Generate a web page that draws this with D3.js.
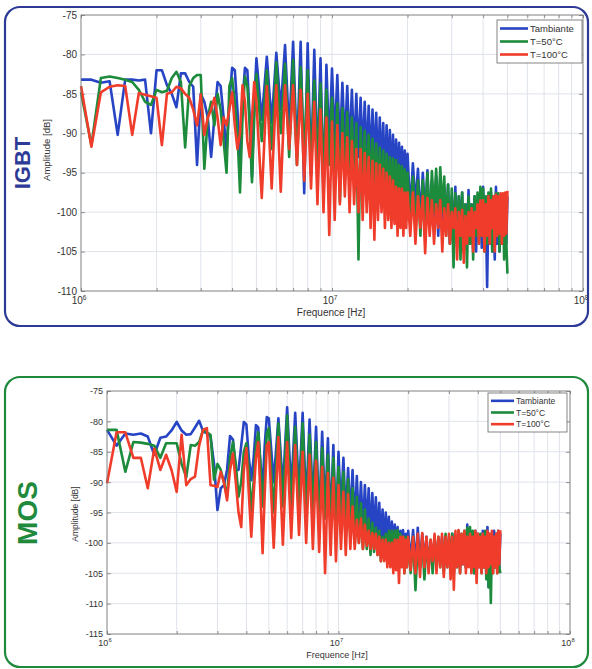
<!DOCTYPE html>
<html>
<head>
<meta charset="utf-8">
<script src="https://cdn.jsdelivr.net/npm/d3@7"></script>
<style>
body { margin: 0; background: #fff; }
text { font-family: "Liberation Sans", Arial, sans-serif; }
</style>
</head>
<body>
<div id="chart"></div>
<script>
// Frequency grid (MHz) shared by every curve
var freqMHz = [
  1, 1.1, 1.2, 1.3, 1.4, 1.5, 1.6, 1.7, 1.8, 1.9,
  2, 2.1, 2.2, 2.3, 2.4, 2.5, 2.6, 2.7, 2.8, 2.9,
  3, 3.1, 3.2, 3.3, 3.4, 3.5, 3.6, 3.7, 3.8, 3.9,
  4, 4.1, 4.2, 4.3, 4.4, 4.5, 4.6, 4.7, 4.8, 4.9,
  5,
  5.25, 5.5, 5.75, 6, 6.25, 6.5, 6.75, 7, 7.25, 7.5,
  7.75, 8, 8.25, 8.5, 8.75, 9, 9.25, 9.5, 9.75, 10,
  10.25, 10.5, 10.75, 11, 11.25, 11.5, 11.75, 12, 12.25, 12.5,
  12.75, 13, 13.25, 13.5, 13.75, 14, 14.25, 14.5, 14.75, 15,
  15.25, 15.5, 15.75, 16, 16.25, 16.5, 16.75, 17, 17.25, 17.5,
  17.75, 18, 18.25, 18.5, 18.75, 19, 19.25, 19.5, 19.75, 20,
  20.5, 21, 21.5, 22, 22.5, 23, 23.5, 24, 24.5, 25,
  25.5, 26, 26.5, 27, 27.5, 28, 28.5, 29, 29.5, 30,
  30.5, 31, 31.5, 32, 32.5, 33, 33.5, 34, 34.5, 35,
  35.5, 36, 36.5, 37, 37.5, 38, 38.5, 39, 39.5, 40,
  40.5, 41, 41.5, 42, 42.5, 43, 43.5, 44, 44.5, 45,
  45.5, 46, 46.5, 47, 47.5, 48, 48.5, 49, 49.5, 50
];

// IGBT amplitudes (dB)
var igbtTamb = [
  -83.2, -83.2, -83.6, -83.4, -90.2, -83.2, -83.2, -83.3, -83.2, -90,
  -82, -82, -83.9, -85, -86.7, -82.4, -82.4, -83.5, -84.1, -94,
  -85, -86, -88, -93, -88, -83.5, -84, -88, -92.4, -86,
  -81.7, -82, -87, -94.3, -86, -81.7, -82, -88, -95.5, -86,
  -80.5,
  -88.3, -80.3, -88.7, -79.8, -87, -78.8, -90, -78.4, -93, -78.4,
  -97.6, -78.6, -95.3, -79.4, -94, -80.5, -97.6, -81.3, -92, -81.8,
  -91, -82.6, -92, -83.6, -91.5, -84, -92, -84.5, -92.5, -85,
  -93, -85.5, -93, -86, -93.5, -86.5, -94, -87, -94, -87.4,
  -95, -88, -95, -88.7, -96.8, -89, -96, -89.6, -97, -90.2,
  -97, -90.8, -98, -91.2, -98, -91.7, -99, -92.2, -99, -92.6,
  -100, -93.8, -99, -94.5, -101, -95, -100.6, -94.7, -102, -96,
  -101, -95.5, -103, -95.5, -102.7, -97, -101.5, -96.5, -104, -98,
  -103, -96.8, -104.4, -98, -102, -97.5, -105, -99, -103, -97.2,
  -104, -99, -102.5, -98, -105, -99.5, -103, -97, -104.5, -96.8,
  -102, -100, -109.5, -99, -104, -97.5, -105, -98, -106, -96.8,
  -104, -99, -105, -98, -104, -99, -103, -98, -104, -98
];
var igbt50 = [
  -84.8, -91.5, -83, -82.8, -83, -83.2, -83.5, -84.5, -86, -86.4,
  -84.5, -84.8, -84.6, -83, -82.2, -83.5, -91.8, -84, -83, -82.6,
  -82.6, -94.5, -88, -86, -89, -85, -87, -91, -95, -84,
  -83, -86, -90, -97.5, -88, -82.8, -84, -89, -96.2, -88,
  -82.5,
  -91, -82, -92, -81, -90, -81.2, -93, -80.7, -94, -81.6,
  -93, -82, -95, -83.3, -94, -83.7, -96, -84.5, -94, -85.5,
  -95, -86.2, -98.7, -86.8, -95, -87.3, -96, -88, -96, -88.7,
  -106, -89.2, -97, -89.7, -97, -90.2, -98, -90.7, -97, -91.3,
  -98, -91.8, -99, -92.2, -98.5, -92.6, -100, -93, -99, -93.2,
  -101, -93.4, -100, -94, -100.5, -94.2, -101, -94.6, -101, -95,
  -101, -95.5, -102, -96, -103, -96, -101, -95, -102, -94.8,
  -100, -94.5, -101, -94.3, -100, -95.5, -103, -96.5, -104, -97,
  -107, -97.6, -104, -98, -106, -97.5, -105, -99, -107, -98,
  -104, -99, -106, -98, -103, -97.5, -104, -96.8, -103, -97,
  -105, -98, -104, -97.5, -103, -97, -105, -98, -104, -97.6,
  -103, -97.6, -105, -99, -104, -98, -106, -98.5, -104, -107.8
];
var igbt100 = [
  -84, -91.7, -84.8, -84.1, -83.9, -84, -90.2, -84.9, -85.1, -85.3,
  -85.5, -91.5, -85, -84.8, -84.1, -84.3, -85, -85.5, -87, -89,
  -85.1, -90.2, -88, -87, -85.5, -88, -91.5, -88, -89, -87,
  -84.8, -89, -92, -90, -83.9, -86, -91, -93, -88, -83.5,
  -86,
  -98.2, -84, -97, -83.9, -97.4, -83.9, -92, -83.9, -94, -84.5,
  -96, -85, -97, -86, -99, -87, -100, -88, -102.9, -88.5,
  -101, -89, -99, -90, -98, -90.5, -100, -91, -99, -92,
  -100, -92, -101, -92.5, -100, -93, -102, -93.5, -103.5, -93.8,
  -101, -94, -100, -94.5, -102, -95, -101, -95.5, -102, -96,
  -101.5, -96.8, -103, -97, -102, -97, -103, -97.5, -102, -97.5,
  -103, -97.5, -104, -98, -102, -98, -105.2, -98.2, -103, -98.5,
  -104, -99, -102, -98.5, -105, -99.5, -103, -99, -104, -100,
  -102, -99.5, -106, -100, -103, -99.7, -106.4, -100.5, -104, -100,
  -103, -99.5, -105, -100, -102, -99, -104, -98.5, -103, -98.5,
  -105, -99, -103, -98, -104, -98.5, -102, -98, -105, -97.8,
  -103, -98, -102.7, -97.6, -104, -97.6, -103, -97.5, -102.7, -97.3
];

// MOS amplitudes (dB)
var mosTamb = [
  -81.4, -84, -82, -82.2, -82, -82.5, -85.5, -82.7, -82.5, -81.5,
  -80.1, -81.5, -82.2, -82.1, -81, -79.9, -81.6, -82, -82.5, -87,
  -94.6, -91, -90.5, -88, -82.4, -83, -88, -88, -84, -80.1,
  -80.5, -86, -89.7, -86, -80.6, -81, -87, -90.8, -84, -79.3,
  -79.5,
  -90, -79.5, -91, -77.7, -91.5, -78.6, -92, -78.6, -93.8, -79.7,
  -94, -80.9, -96.6, -81.7, -95, -82.8, -97, -83.9, -98.7, -85,
  -95, -86, -96, -87.7, -96, -88, -97, -89, -97.5, -90,
  -98, -90.5, -98, -91, -99, -91.8, -99, -92.5, -100, -93.4,
  -100, -94.5, -101, -95, -101, -95.7, -102, -96.5, -102, -97,
  -103, -97.4, -103, -98, -102, -97.9, -103, -98.5, -102.5, -98,
  -103, -97.9, -103.5, -97.5, -104, -98.5, -103, -99, -104, -100,
  -103.5, -99, -104, -99.5, -103, -99, -104.5, -99, -103, -99.5,
  -104, -98.5, -105, -99, -103, -98.5, -104, -99, -103.5, -98.5,
  -104, -97, -103, -98.5, -104, -99, -105, -98, -103, -98.5,
  -104, -99, -103.5, -98, -104, -98.5, -105, -97.4, -107.3, -98.5,
  -104, -99, -103.5, -98, -104, -98.5, -103, -98, -104, -98.4
];
var mos50 = [
  -81.4, -81.4, -88.3, -83.4, -83.5, -83.7, -84, -86, -83.6, -83.6,
  -83.6, -87, -89.2, -83.9, -84, -83.4, -81.4, -81.8, -82.2, -89.6,
  -87, -88, -90, -92.4, -86, -83.4, -87, -92.4, -90, -85,
  -83.6, -88, -94.9, -90, -84, -81.8, -87, -94, -89, -82,
  -81.1,
  -95, -80.3, -94, -79, -95, -80.9, -94, -80.3, -96, -82.2,
  -95, -83.4, -97, -84.4, -96, -85.5, -98, -86, -97, -87.5,
  -98, -88.3, -99, -89.5, -99, -91, -100, -92.4, -100, -93.5,
  -101, -94.5, -101, -96, -102, -96.7, -101.5, -97.5, -102, -98,
  -103, -99, -102, -98.5, -103, -98, -102.5, -98, -104, -98,
  -103, -97.9, -104, -98.5, -103, -99, -105, -99, -104, -99.5,
  -105, -99, -107.8, -100, -104, -99.5, -106, -100, -104, -99.5,
  -105, -100, -103, -99, -104, -99.5, -105, -98.5, -104, -99,
  -103.5, -98.5, -105, -99, -104, -98, -105, -98.5, -103, -98,
  -104, -97.5, -103, -97.4, -104, -98, -105, -98.5, -104, -99,
  -103, -98.5, -105, -99, -104, -98, -106, -98.5, -107.3, -99,
  -109.9, -100, -105, -99, -104, -98.5, -105, -99, -104, -105
];
var mos100 = [
  -90.2, -81.8, -81.8, -86, -86, -91, -84.5, -88, -85.5, -88,
  -91.6, -82.2, -90.5, -89.5, -89.1, -84, -81.4, -81.1, -90.5, -90.6,
  -90.8, -88.3, -90, -93, -88, -85.3, -90, -95, -97.4, -88,
  -84.4, -92, -99, -92, -86, -83.4, -92, -101.7, -92, -84,
  -83.4,
  -100.8, -82.6, -100.3, -83.4, -99.2, -83.9, -98.7, -85, -100, -85.5,
  -101, -86.5, -101.5, -87.5, -105, -88.5, -102, -89.3, -103, -90.5,
  -101, -91.6, -102, -92, -101, -94, -101, -96.2, -100, -96,
  -101, -97, -100.5, -98, -101, -98.4, -101, -98.5, -102, -99,
  -103, -99.5, -103, -99.5, -104, -100, -104, -100, -105, -99.5,
  -104.5, -99.5, -106.6, -99, -104, -99, -105, -99.5, -104, -99,
  -104.5, -99, -105, -98.5, -105.6, -98.4, -104, -99, -105, -99.5,
  -103, -98.5, -105, -99, -104, -98.5, -105.6, -99, -104, -98.5,
  -106, -99, -107.7, -98, -104, -97.9, -105, -98.5, -103.5, -98,
  -105, -99, -104, -98.5, -105, -99, -104, -98, -106.6, -98.5,
  -104, -99, -105, -98.5, -104, -99, -105, -98, -104, -98.5,
  -103.5, -98, -105, -99, -104, -98.5, -105, -98, -103.5, -97.9
];

var seriesNames = ["Tambiante", "T=50°C", "T=100°C"];
var seriesColors = ["#2644c4", "#1c8b3b", "#f03c2a"];
var xDecades = [1e6, 1e7, 1e8];
var xExponents = ["6", "7", "8"];
var igbtYTicks = [-75, -80, -85, -90, -95, -100, -105, -110];
var mosYTicks = [-75, -80, -85, -90, -95, -100, -105, -110, -115];

var svg = d3.select("#chart")
  .append("svg")
  .attr("width", 592)
  .attr("height", 669);

function drawPanel(p) {
  var g = svg.append("g");

  // rounded frame
  g.append("rect")
    .attr("x", p.frame[0]).attr("y", p.frame[1])
    .attr("width", p.frame[2]).attr("height", p.frame[3])
    .attr("rx", 15)
    .attr("fill", "#fff")
    .attr("stroke", p.color)
    .attr("stroke-width", 2.2);

  // side title
  g.append("text")
    .attr("transform", `translate(${p.title[0]},${p.title[1]}) rotate(-90)`)
    .attr("text-anchor", "middle")
    .attr("font-family", "'Liberation Sans Narrow', 'Liberation Sans', Arial, sans-serif")
    .attr("font-weight", "bold")
    .attr("font-size", p.titleSize)
    .attr("fill", p.color)
    .text(p.name);

  var x = d3.scaleLog().domain([1e6, 1e8]).range([p.left, p.right]);
  var y = d3.scaleLinear()
    .domain([p.yTicks[p.yTicks.length - 1], p.yTicks[0]])
    .range([p.bottom, p.top]);

  // grid
  g.append("g").selectAll("line")
    .data(x.ticks())
    .enter().append("line")
    .attr("x1", d => x(d)).attr("x2", d => x(d))
    .attr("y1", p.top).attr("y2", p.bottom)
    .attr("stroke", "#dbe0e8").attr("stroke-width", 0.9);
  g.append("g").selectAll("line")
    .data(p.yTicks)
    .enter().append("line")
    .attr("x1", p.left).attr("x2", p.right)
    .attr("y1", d => y(d)).attr("y2", d => y(d))
    .attr("stroke", "#dbe0e8").attr("stroke-width", 0.9);

  // axes, ticks pointing inwards
  var yAxis = g.append("g")
    .attr("transform", `translate(${p.left},0)`)
    .call(d3.axisLeft(y).tickValues(p.yTicks).tickSize(-4).tickPadding(4).tickFormat(d => String(d)));
  yAxis.selectAll("text").attr("font-size", p.fontSize).attr("fill", "#333");
  g.append("g")
    .attr("transform", `translate(${p.right},0)`)
    .call(d3.axisRight(y).tickValues(p.yTicks).tickSize(-4).tickFormat(""));
  g.append("g")
    .attr("transform", `translate(0,${p.bottom})`)
    .call(d3.axisBottom(x).tickValues(x.ticks()).tickSize(-3).tickFormat(""));
  g.append("g")
    .attr("transform", `translate(0,${p.top})`)
    .call(d3.axisTop(x).tickValues(x.ticks()).tickSize(-3).tickFormat(""));
  g.selectAll(".domain").remove();
  g.selectAll(".tick line").attr("stroke", "#666").attr("stroke-width", 0.7);

  // x tick labels 10^n
  var xl = g.append("g").selectAll("text")
    .data(xDecades)
    .enter().append("text")
    .attr("x", d => x(d) - 2)
    .attr("y", p.bottom + p.fontSize + 3)
    .attr("text-anchor", "middle")
    .attr("font-size", p.fontSize)
    .attr("fill", "#333");
  xl.append("tspan").text("10");
  xl.append("tspan")
    .attr("dy", -p.fontSize * 0.45)
    .attr("font-size", p.fontSize * 0.65)
    .text((d, i) => xExponents[i]);

  // curves, drawn blue then green then red
  var line = d3.line()
    .x((d, i) => x(freqMHz[i] * 1e6))
    .y(d => y(d));
  p.series.forEach(function(s, k) {
    g.append("path")
      .datum(s.slice(0, freqMHz.length))
      .attr("d", line)
      .attr("fill", "none")
      .attr("stroke", seriesColors[k])
      .attr("stroke-width", 2.6)
      .attr("stroke-linejoin", "round");
  });

  // plot box
  g.append("rect")
    .attr("x", p.left).attr("y", p.top)
    .attr("width", p.right - p.left).attr("height", p.bottom - p.top)
    .attr("fill", "none").attr("stroke", "#777").attr("stroke-width", 0.8);

  // axis labels
  g.append("text")
    .attr("x", p.xLabel[0]).attr("y", p.xLabel[1])
    .attr("text-anchor", "middle")
    .attr("font-size", p.fontSize)
    .attr("fill", "#333")
    .text("Frequence [Hz]");
  g.append("text")
    .attr("transform", `translate(${p.yLabel[0]},${p.yLabel[1]}) rotate(-90)`)
    .attr("text-anchor", "middle")
    .attr("font-size", p.fontSize - 0.5)
    .attr("fill", "#333")
    .text("Amplitude [dB]");

  // legend
  var lg = g.append("g").attr("transform", `translate(${p.legend[0]},${p.legend[1]})`);
  lg.append("rect")
    .attr("width", p.legend[2]).attr("height", p.legend[3])
    .attr("fill", "#fff").attr("stroke", "#666").attr("stroke-width", 0.8);
  var step = (p.legend[3] - 4) / 3;
  seriesNames.forEach(function(name, k) {
    var ly = 2 + step * (k + 0.5);
    lg.append("line")
      .attr("x1", 3).attr("x2", p.legendLine)
      .attr("y1", ly).attr("y2", ly)
      .attr("stroke", seriesColors[k]).attr("stroke-width", 2.6);
    lg.append("text")
      .attr("x", p.legendLine + 2).attr("y", ly + p.fontSize * 0.35)
      .attr("font-size", p.fontSize - 0.5)
      .attr("fill", "#333")
      .text(name);
  });
}

drawPanel({
  name: "IGBT", color: "#2e3b96", titleSize: 22, title: [30, 163],
  frame: [5, 7, 583, 319],
  left: 81, right: 583, top: 15, bottom: 291,
  yTicks: igbtYTicks, fontSize: 10,
  xLabel: [331, 316], yLabel: [50, 150],
  legend: [497, 20, 85, 43], legendLine: 31,
  series: [igbtTamb, igbt50, igbt100]
});

drawPanel({
  name: "MOS", color: "#1f8a3c", titleSize: 28, title: [37, 513],
  frame: [5, 377, 583, 290],
  left: 107, right: 570, top: 391, bottom: 634,
  yTicks: mosYTicks, fontSize: 9,
  xLabel: [337, 658], yLabel: [78, 514],
  legend: [488, 393, 79, 39], legendLine: 26,
  series: [mosTamb, mos50, mos100]
});
</script>
</body>
</html>
